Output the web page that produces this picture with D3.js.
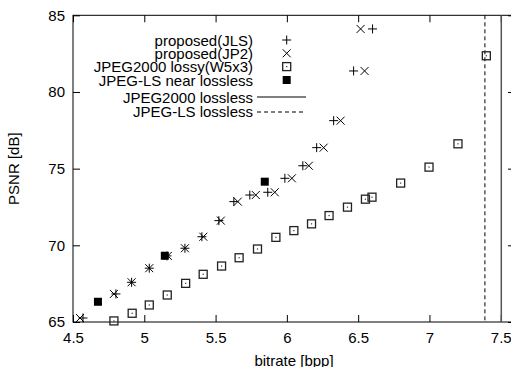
<!DOCTYPE html>
<html>
<head>
<meta charset="utf-8">
<script src="https://cdn.jsdelivr.net/npm/d3@7"></script>
<style>
  body { margin: 0; background: #fff; }
  text { font-family: "Liberation Sans", Arial, sans-serif; }
</style>
</head>
<body>
<div id="chart"></div>
<script>
// PSNR vs bitrate, proposed codecs against JPEG2000 / JPEG-LS

const pairPsnr = [65.26, 66.83, 67.59, 68.51, 69.31, 69.81, 70.56, 71.61, 72.85, 73.28, 73.46, 74.37, 75.19, 76.37, 78.13, 81.37, 84.11]
const jlsRate = [4.570, 4.801, 4.911, 5.035, 5.159, 5.285, 5.404, 5.523, 5.628, 5.740, 5.866, 5.986, 6.112, 6.209, 6.328, 6.468, 6.601]
const jp2Rate = [4.549, 4.787, 4.911, 5.035, 5.165, 5.285, 5.414, 5.537, 5.656, 5.782, 5.915, 6.035, 6.154, 6.258, 6.377, 6.545, 6.517]

const lossyRate = [4.787, 4.915, 5.035, 5.161, 5.290, 5.413, 5.542, 5.665, 5.794, 5.923, 6.049, 6.173, 6.296, 6.425, 6.551, 6.597, 6.798, 6.997, 7.200, 7.399]
const lossyPsnr = [65.07, 65.57, 66.11, 66.76, 67.52, 68.11, 68.65, 69.19, 69.76, 70.52, 70.96, 71.40, 71.94, 72.49, 73.01, 73.14, 74.06, 75.10, 76.62, 82.36]

const nearRate = [4.675, 5.144, 5.845]
const nearPsnr = [66.32, 69.32, 74.15]

const j2kLosslessRate = 7.504
const jlsLosslessRate = 7.389

const xTicks = [4.5, 5, 5.5, 6, 6.5, 7, 7.5]
const yTicks = [65, 70, 75, 80, 85]

const legendLabels = ['proposed(JLS)', 'proposed(JP2)', 'JPEG2000 lossy(W5x3)', 'JPEG-LS near lossless', 'JPEG2000 lossless', 'JPEG-LS lossless']

const width = 511
const height = 367
const margin = { top: 15.3, right: -4, bottom: 45, left: 73 }
const fs = 15

const svg = d3.select('#chart').append('svg')
  .attr('width', width)
  .attr('height', height)

const x = d3.scaleLinear().domain([4.5, 7.6]).range([margin.left, width - margin.right])
const y = d3.scaleLinear().domain([65, 85]).range([height - margin.bottom, margin.top])

// axes (gnuplot-style inward ticks)
const xAxis = svg.append('g')
  .attr('transform', `translate(0,${y(65)})`)
  .call(d3.axisBottom(x).tickValues(xTicks).tickSizeInner(-7).tickSizeOuter(0).tickPadding(10).tickFormat(d => String(d)))
xAxis.select('.domain').remove()
xAxis.selectAll('text').style('font-size', fs + 'px').attr('fill', '#000')

const xTop = svg.append('g')
  .attr('transform', `translate(0,${y(85)})`)
  .call(d3.axisTop(x).tickValues(xTicks).tickSizeInner(-7).tickSizeOuter(0).tickFormat(''))
xTop.select('.domain').remove()

const yAxis = svg.append('g')
  .attr('transform', `translate(${x(4.5)},0)`)
  .call(d3.axisLeft(y).tickValues(yTicks).tickSizeInner(-7).tickSizeOuter(0).tickPadding(8))
yAxis.select('.domain').remove()
yAxis.selectAll('text').style('font-size', fs + 'px').attr('fill', '#000')

const yRight = svg.append('g')
  .attr('transform', `translate(${x(7.6)},0)`)
  .call(d3.axisRight(y).tickValues(yTicks).tickSizeInner(-7).tickSizeOuter(0).tickFormat(''))
yRight.select('.domain').remove()

// border
svg.append('rect')
  .attr('x', x(4.5)).attr('y', y(85))
  .attr('width', x(7.6) - x(4.5)).attr('height', y(65) - y(85))
  .attr('fill', 'none').attr('stroke', '#000').attr('stroke-width', 1)

// axis labels
svg.append('text')
  .attr('x', (x(4.5) + x(7.6)) / 2).attr('y', 360)
  .attr('text-anchor', 'middle').attr('dominant-baseline', 'central')
  .style('font-size', fs + 'px')
  .text('bitrate [bpp]')

svg.append('text')
  .attr('transform', `translate(13,${(y(65) + y(85)) / 2}) rotate(-90)`)
  .attr('text-anchor', 'middle').attr('dominant-baseline', 'central')
  .style('font-size', fs + 'px')
  .text('PSNR [dB]')

// lossless reference lines
svg.append('line')
  .attr('x1', x(j2kLosslessRate)).attr('x2', x(j2kLosslessRate))
  .attr('y1', y(85)).attr('y2', y(65))
  .attr('stroke', '#555').attr('stroke-width', 1.5)

svg.append('line')
  .attr('x1', x(jlsLosslessRate)).attr('x2', x(jlsLosslessRate))
  .attr('y1', y(85)).attr('y2', y(65))
  .attr('stroke', '#000').attr('stroke-width', 1).attr('stroke-dasharray', '4,3')

// marker painters
const plus = (g, cx, cy) => {
  g.append('path')
    .attr('d', `M${cx - 4.5},${cy}H${cx + 4.5}M${cx},${cy - 4.5}V${cy + 4.5}`)
    .attr('stroke', '#000').attr('stroke-width', 1).attr('fill', 'none')
}
const cross = (g, cx, cy) => {
  g.append('path')
    .attr('d', `M${cx - 4},${cy - 4}L${cx + 4},${cy + 4}M${cx - 4},${cy + 4}L${cx + 4},${cy - 4}`)
    .attr('stroke', '#000').attr('stroke-width', 1).attr('fill', 'none')
}
const openBox = (g, cx, cy) => {
  g.append('rect')
    .attr('x', cx - 4).attr('y', cy - 4).attr('width', 8).attr('height', 8)
    .attr('fill', 'none').attr('stroke', '#222').attr('stroke-width', 1.3)
  g.append('rect')
    .attr('x', cx - 0.6).attr('y', cy - 0.6).attr('width', 1.2).attr('height', 1.2)
    .attr('fill', '#333')
}
const filledBox = (g, cx, cy) => {
  g.append('rect')
    .attr('x', cx - 4).attr('y', cy - 4).attr('width', 8).attr('height', 8)
    .attr('fill', '#000')
}

const marks = svg.append('g')
lossyRate.forEach((r, i) => openBox(marks, x(r), y(lossyPsnr[i])))
nearRate.forEach((r, i) => filledBox(marks, x(r), y(nearPsnr[i])))
jlsRate.forEach((r, i) => plus(marks, x(r), y(pairPsnr[i])))
jp2Rate.forEach((r, i) => cross(marks, x(r), y(pairPsnr[i])))

// legend
const legendY = [40, 53.3, 66.6, 80, 97.5, 111]
const legendTextX = 253
const legendSymX = 286.7
const legend = svg.append('g')

legendLabels.forEach((label, i) => {
  legend.append('text')
    .attr('x', legendTextX).attr('y', legendY[i])
    .attr('text-anchor', 'end').attr('dominant-baseline', 'central')
    .style('font-size', fs + 'px')
    .text(label)
})

plus(legend, legendSymX, legendY[0])
cross(legend, legendSymX, legendY[1])
openBox(legend, legendSymX, legendY[2])
filledBox(legend, legendSymX, legendY[3])

legend.append('line')
  .attr('x1', 257).attr('x2', 306).attr('y1', legendY[4] - 0.5).attr('y2', legendY[4] - 0.5)
  .attr('stroke', '#555').attr('stroke-width', 1.5)
legend.append('line')
  .attr('x1', 257).attr('x2', 306).attr('y1', legendY[5] + 1).attr('y2', legendY[5] + 1)
  .attr('stroke', '#000').attr('stroke-width', 1).attr('stroke-dasharray', '4,3')
</script>
</body>
</html>
